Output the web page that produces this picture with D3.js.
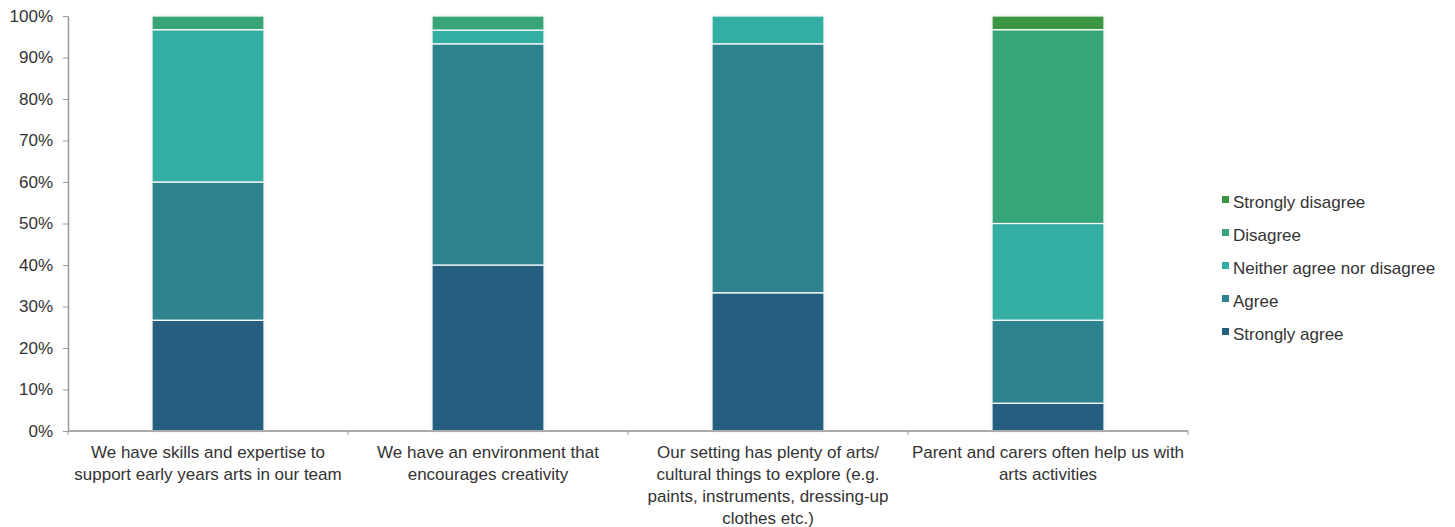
<!DOCTYPE html>
<html><head><meta charset="utf-8">
<script src="https://cdn.jsdelivr.net/npm/d3@7"></script>
<style>body{margin:0;background:#fff}svg{display:block;font-family:"Liberation Sans",Arial,sans-serif}</style>
</head><body><svg id="c" width="1455" height="527"></svg>
<script>
const categories = [
  ["We have skills and expertise to","support early years arts in our team"],
  ["We have an environment that","encourages creativity"],
  ["Our setting has plenty of arts/","cultural things to explore (e.g.","paints, instruments, dressing-up","clothes etc.)"],
  ["Parent and carers often help us with","arts activities"]
];
const seriesNames = ["Strongly agree","Agree","Neither agree nor disagree","Disagree","Strongly disagree"];
const stronglyAgree = [26.7, 40.0, 33.3, 6.7];
const agree = [33.3, 53.3, 60.0, 20.0];
const neither = [36.7, 3.3, 6.7, 23.3];
const disagree = [3.3, 3.4, 0, 46.7];
const stronglyDisagree = [0, 0, 0, 3.3];
const colors = ["#255e7e","#2e838e","#34ada3","#37a577","#3a9641"];
const yTicks = [0,10,20,30,40,50,60,70,80,90,100];

const svg = d3.select("#c");
const m = {l:68, r:1188, t:16, b:431};
const x = d3.scaleBand().domain(d3.range(categories.length)).range([m.l, m.r]).paddingInner(0).paddingOuter(0);
const y = d3.scaleLinear().domain([0,100]).range([m.b, m.t]);
const barW = x.bandwidth()*0.4;
const FS = 17;

const rows = categories.map((c,i)=>({i, v:[stronglyAgree[i],agree[i],neither[i],disagree[i],stronglyDisagree[i]]}));
const stack = d3.stack().keys(d3.range(5)).value((d,k)=>d.v[k]);
const layers = stack(rows);

const defs = svg.append("defs");
const f = defs.append("filter").attr("id","sh").attr("x","-10%").attr("y","-10%").attr("width","120%").attr("height","120%");
f.append("feDropShadow").attr("dx",0).attr("dy",0).attr("stdDeviation",1.5).attr("flood-color","#000").attr("flood-opacity",0.18);

svg.append("g").selectAll("rect").data(rows).join("rect")
  .attr("x",d=>x(d.i)+(x.bandwidth()-barW)/2).attr("width",barW)
  .attr("y",y(100)).attr("height",y(0)-y(100)).attr("fill","#fff").attr("filter","url(#sh)");

const g = svg.append("g");
layers.forEach((layer,k)=>{
  g.append("g").selectAll("rect").data(layer.filter(d=>d[1]-d[0]>0)).join("rect")
    .attr("x",d=>x(d.data.i)+(x.bandwidth()-barW)/2).attr("width",barW)
    .attr("y",d=>y(d[1])).attr("height",d=>y(d[0])-y(d[1]))
    .attr("fill",colors[k]).attr("stroke","#fff").attr("stroke-width",1.2);
});

const ya = svg.append("g").attr("transform",`translate(${m.l},0)`)
  .call(d3.axisLeft(y).tickValues(yTicks).tickFormat(d=>d+"%").tickSize(5).tickSizeOuter(0));
ya.select(".domain").attr("stroke","#999").attr("stroke-width",1.5);
ya.selectAll(".tick line").attr("stroke","#999");
ya.selectAll(".tick text").attr("font-size",FS).attr("fill","#333").attr("x",-15).attr("font-family","Liberation Sans, Arial, sans-serif");

svg.append("line").attr("x1",m.l).attr("x2",m.r).attr("y1",m.b).attr("y2",m.b).attr("stroke","#aaa").attr("stroke-width",2);
const bounds = d3.range(categories.length+1).map(i=> i<categories.length ? x(i) : x(i-1)+x.bandwidth());
svg.append("g").selectAll("line").data(bounds).join("line")
  .attr("x1",d=>d).attr("x2",d=>d).attr("y1",m.b).attr("y2",m.b+4).attr("stroke","#999");

const lab = svg.append("g");
categories.forEach((lines,i)=>{
  const cx = x(i)+x.bandwidth()/2;
  const t = lab.append("text").attr("text-anchor","middle").attr("font-size",FS).attr("fill","#333")
    .attr("x",cx).attr("y",458);
  lines.forEach((ln,j)=>t.append("tspan").attr("x",cx).attr("dy",j?22:0).text(ln));
});

const order = [4,3,2,1,0];
const lg = svg.append("g").attr("transform","translate(1222,202)");
order.forEach((k,j)=>{
  const r = lg.append("g").attr("transform",`translate(0,${j*33})`);
  r.append("rect").attr("x",0).attr("y",-6).attr("width",7).attr("height",7).attr("fill",colors[k]);
  r.append("text").attr("x",11).attr("y",0).attr("dy","0.35em").attr("font-size",FS).attr("fill","#333").text(seriesNames[k]);
});
</script></body></html>
